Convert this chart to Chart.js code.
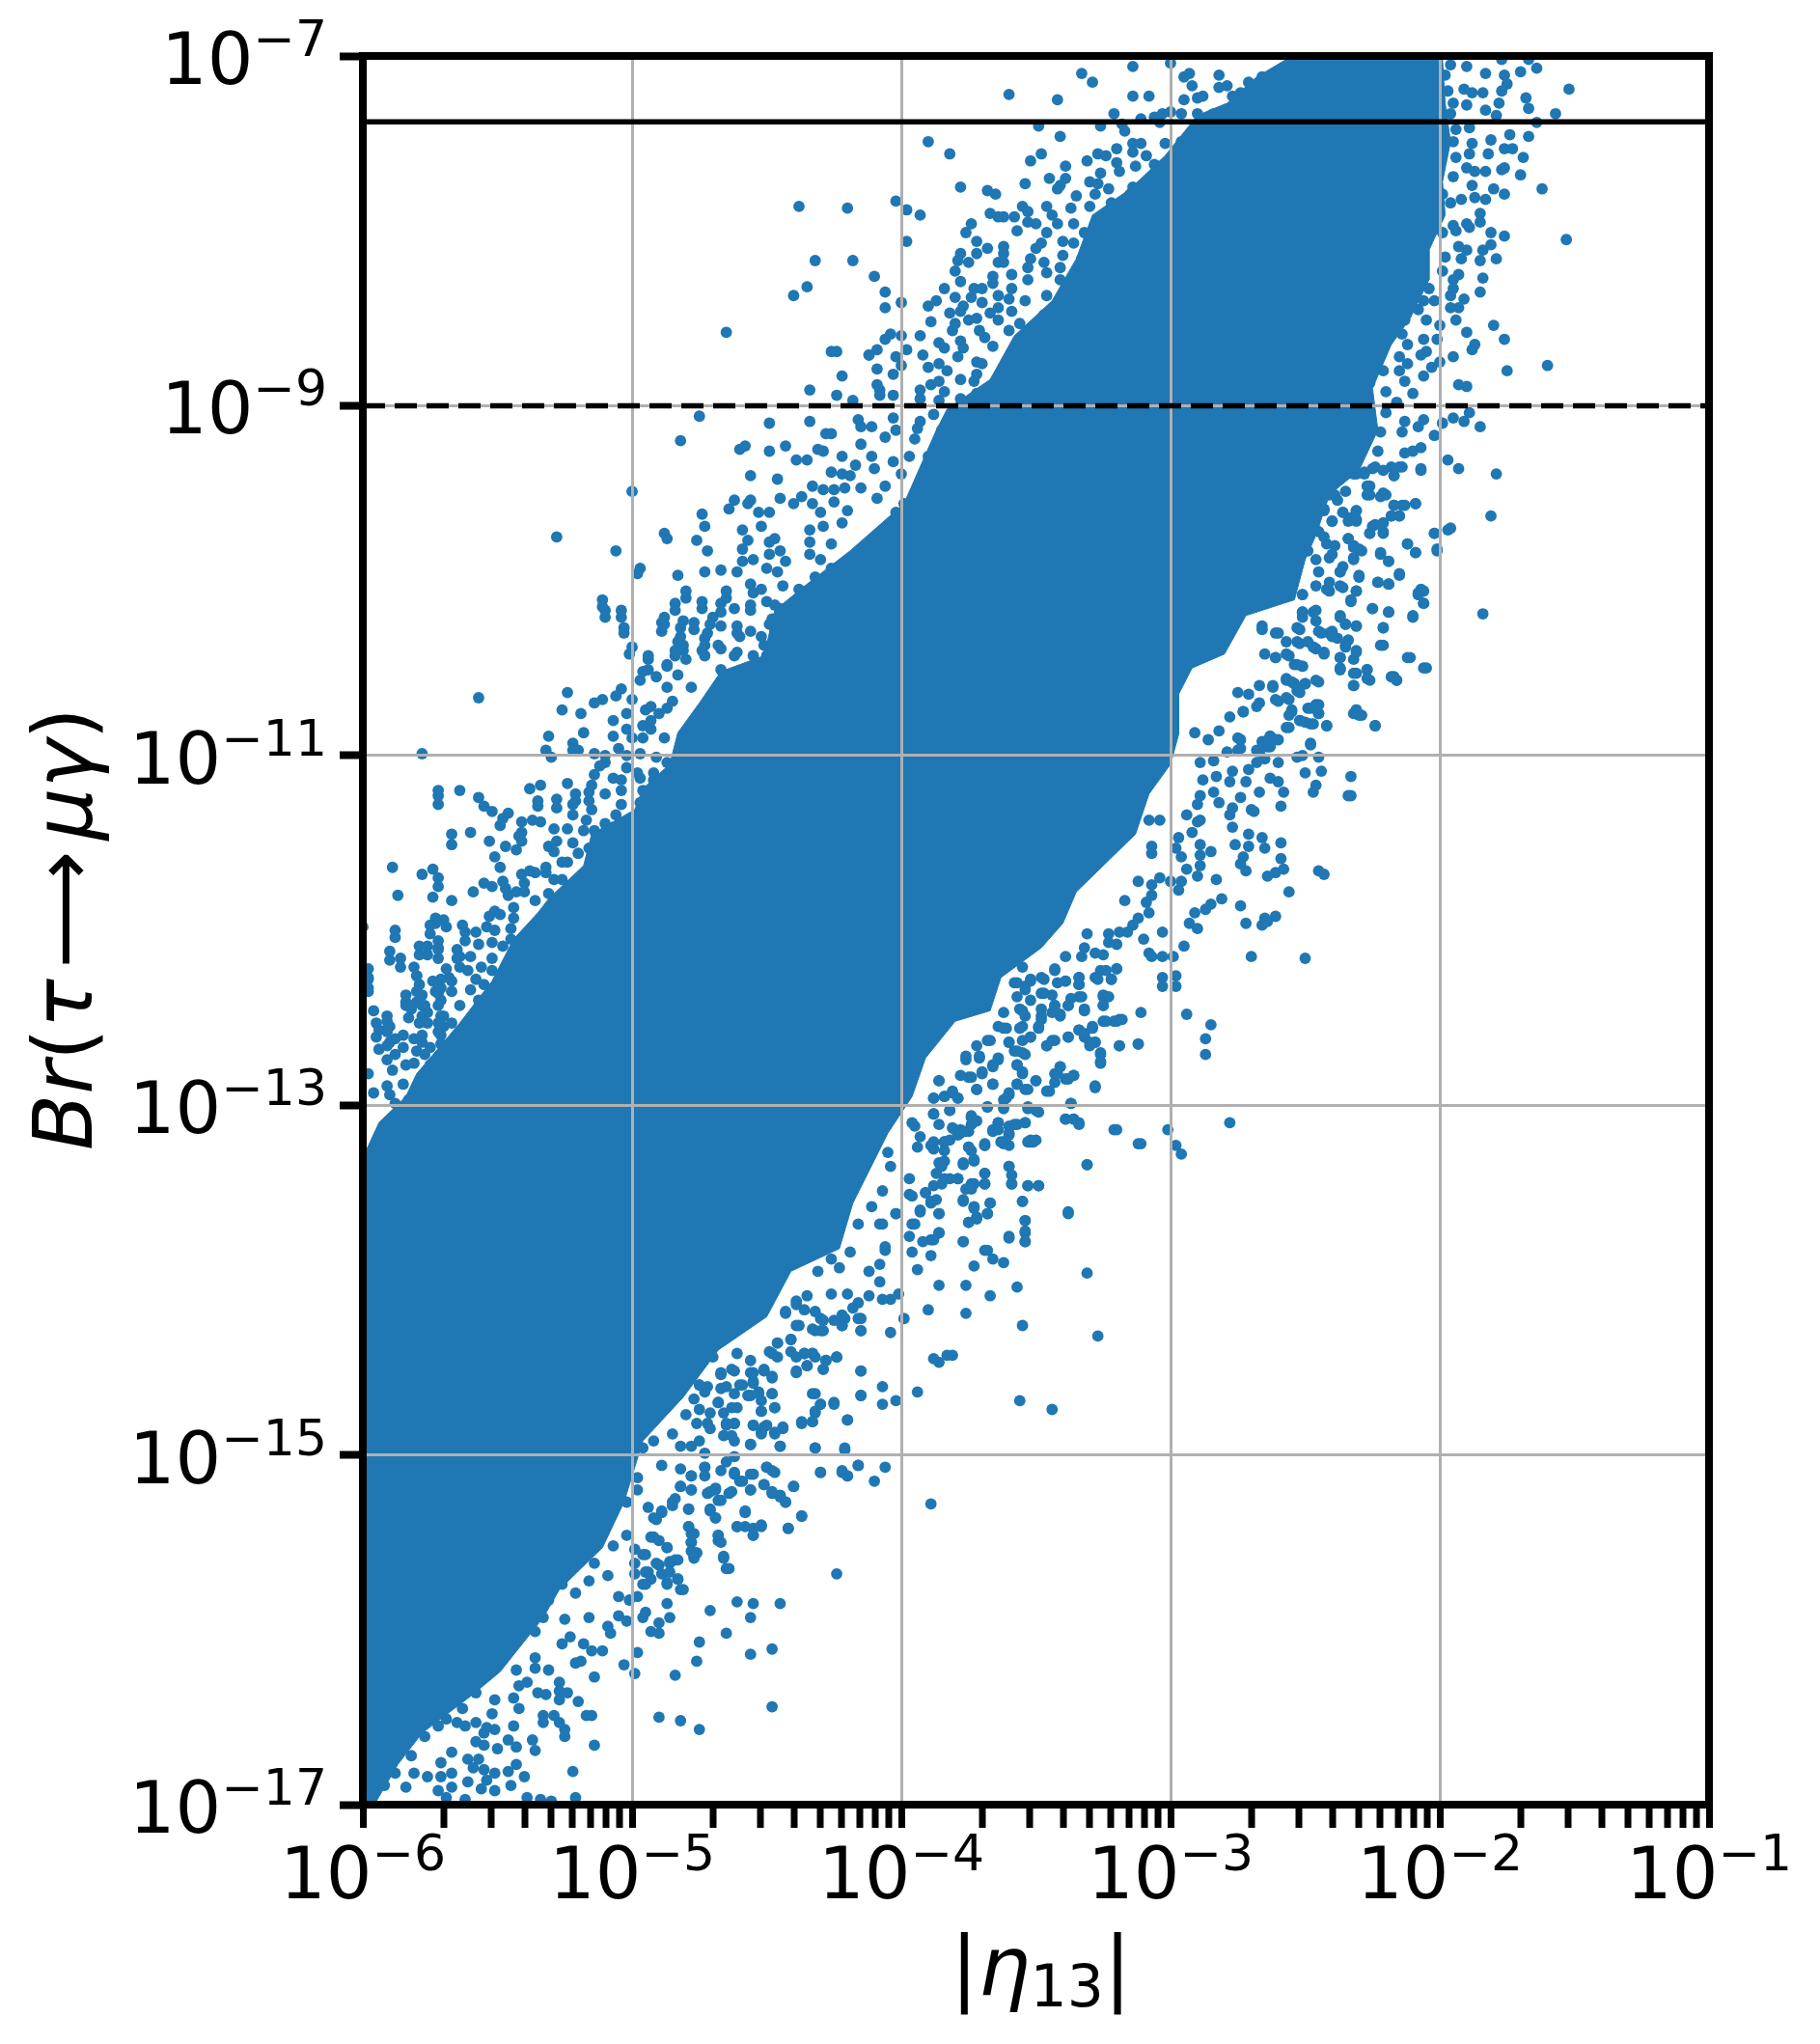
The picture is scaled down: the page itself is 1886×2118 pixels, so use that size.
<!DOCTYPE html>
<html>
<head>
<meta charset="UTF-8">
<title>Br(tau to mu gamma)</title>
<script src="https://cdn.jsdelivr.net/npm/chart.js@4"></script>
<style>
  html, body { margin: 0; padding: 0; background: #fff; }
  canvas { display: block; }
</style>
</head>
<body>
<canvas id="plot" width="1886" height="2118"></canvas>
<script>
// all values are log10(|eta13|), log10(Br)
const xMajorExp = [-6, -5, -4, -3, -2, -1];
const xMinorMult = [2, 3, 4, 5, 6, 7, 8, 9];
const yMajorExp = [-17, -15, -13, -11, -9, -7];
const limitSolid = 4.2e-8;
const limitDashed = 1e-9;

// outline of the part of the cloud where the dots merge into solid colour
const bandUpper = [[-6,-13.30],[-5.94,-13.10],[-5.84,-12.95],[-5.80,-12.82],[-5.70,-12.64],[-5.64,-12.53],[-5.52,-12.29],[-5.44,-12.05],[-5.35,-11.90],[-5.31,-11.82],[-5.18,-11.63],[-5.15,-11.45],[-4.99,-11.31],[-4.96,-11.19],[-4.86,-11.05],[-4.83,-10.87],[-4.75,-10.70],[-4.67,-10.52],[-4.51,-10.43],[-4.47,-10.17],[-4.35,-10.02],[-4.19,-9.83],[-3.99,-9.56],[-3.87,-9.14],[-3.83,-9.02],[-3.67,-8.85],[-3.58,-8.60],[-3.44,-8.40],[-3.35,-8.16],[-3.29,-7.91],[-3.15,-7.76],[-3.02,-7.57],[-2.90,-7.34],[-2.79,-7.27],[-2.68,-7.12],[-2.57,-7.02],[-2.53,-6.95]];
const bandLower = [[-1.99,-6.95],[-1.99,-7.02],[-1.98,-7.27],[-1.96,-7.49],[-1.99,-7.72],[-1.98,-7.91],[-2.04,-8.11],[-2.04,-8.28],[-2.11,-8.50],[-2.18,-8.65],[-2.25,-8.90],[-2.23,-9.14],[-2.30,-9.37],[-2.41,-9.51],[-2.46,-9.74],[-2.50,-9.88],[-2.54,-10.11],[-2.72,-10.20],[-2.80,-10.42],[-2.92,-10.50],[-2.97,-10.65],[-2.97,-10.88],[-3,-11.05],[-3.08,-11.22],[-3.13,-11.45],[-3.23,-11.60],[-3.35,-11.78],[-3.40,-11.96],[-3.48,-12.10],[-3.63,-12.27],[-3.67,-12.46],[-3.80,-12.52],[-3.91,-12.73],[-3.96,-12.95],[-4.05,-13.16],[-4.18,-13.56],[-4.23,-13.82],[-4.41,-13.95],[-4.50,-14.21],[-4.68,-14.40],[-4.81,-14.67],[-4.96,-14.92],[-5.03,-15.27],[-5.11,-15.53],[-5.27,-15.77],[-5.33,-15.93],[-5.49,-16.24],[-5.60,-16.38],[-5.78,-16.59],[-5.87,-16.77],[-5.95,-16.98],[-6,-17]];

const leftCorner = [[-5.88,-12.04],[-5.90,-12.17],[-5.86,-12.21],[-5.80,-12.26],[-5.79,-12.31],[-5.79,-12.14],[-5.76,-12.14],[-5.72,-12.10],[-5.72,-12.16],[-5.75,-12.02],[-5.73,-11.96],[-5.69,-11.98],[-5.62,-12.01],[-5.65,-12.16],[-5.64,-12.21],[-5.68,-12.27],[-5.73,-12.35],[-5.67,-12.35],[-5.71,-12.33],[-5.71,-12.40],[-5.84,-12.43],[-5.80,-12.41],[-5.77,-12.43],[-5.83,-12.50],[-5.78,-12.49],[-5.76,-12.53],[-5.78,-12.60],[-5.95,-12.53],[-5.90,-12.55],[-5.91,-12.58],[-5.90,-12.64],[-5.94,-12.68],[-5.85,-12.67],[-5.71,-12.60],[-5.71,-12.65],[-5.70,-12.55],[-5.71,-12.49],[-5.91,-12.74],[-5.88,-12.71],[-5.89,-12.80],[-5.84,-12.77],[-5.81,-12.76],[-5.80,-12.69],[-5.77,-12.71],[-5.75,-12.77],[-5.69,-12.82],[-5.91,-12.89],[-5.85,-12.88],[-5.96,-12.93],[-5.90,-12.94],[-5.88,-12.99],[-5.83,-12.97],[-5.98,-12.82],[-5.98,-12.27],[-5.98,-12.33]];

const leftWingLow = [[-5.11,-10.15],[-5.10,-10.21],[-5.04,-10.21],[-5.03,-10.30],[-5.01,-10.42],[-4.94,-10.45],[-4.94,-10.51],[-4.97,-10.57],[-4.91,-10.55],[-4.87,-10.49],[-4.84,-10.17],[-4.80,-10.10],[-4.74,-10.16],[-4.65,-10.10],[-4.89,-10.24],[-4.89,-10.29],[-4.82,-10.27],[-4.77,-10.28],[-4.71,-10.25],[-4.83,-10.35],[-4.73,-10.33],[-4.74,-10.40],[-4.81,-10.40],[-4.84,-10.43],[-4.80,-10.45],[-4.87,-10.61],[-4.78,-10.61],[-4.83,-10.54],[-4.67,-10.18],[-4.61,-10.30],[-4.56,-10.29],[-4.62,-10.43],[-4.67,-10.39],[-4.55,-10.43],[-4.51,-10.37],[-4.50,-10.54],[-4.55,-10.07],[-4.47,-10.14],[-4.56,-10.17],[-4.49,-10.25],[-5.24,-10.64],[-5.26,-10.74],[-5.19,-10.76],[-5.57,-10.67],[-5.14,-10.70],[-5.11,-10.68],[-5.06,-10.66],[-5.04,-10.62],[-5,-10.68],[-5.07,-10.80],[-5.02,-10.76],[-4.95,-10.74],[-4.93,-10.72],[-4.90,-10.76],[-4.85,-10.69],[-4.87,-10.73],[-5.18,-10.87],[-5.31,-10.89],[-5.22,-10.93],[-5.07,-10.89],[-5.02,-10.85],[-4.96,-10.83],[-4.93,-10.80],[-4.93,-10.85],[-4.96,-10.90],[-5,-10.90],[-4.88,-10.90],[-5.05,-10.96],[-5.78,-10.99],[-5.32,-10.97],[-5.30,-11.01],[-5.22,-10.97],[-5.20,-10.97],[-5.14,-10.99],[-5.10,-11],[-5.02,-11],[-4.97,-10.99],[-4.91,-11.01],[-4.87,-11.04],[-5.10,-11.04],[-5.12,-11.06],[-5.02,-11.07],[-4.98,-11.10],[-5.14,-11.11],[-5.07,-11.13],[-5.04,-11.14],[-4.97,-11.13],[-4.92,-11.10],[-4.92,-11.14],[-5.34,-11.17],[-5.38,-11.19],[-5.24,-11.16],[-5.15,-11.17],[-5.04,-11.20],[-4.96,-11.20],[-5.64,-11.20],[-5.72,-11.20],[-5.72,-11.23],[-5.72,-11.28],[-5.57,-11.24],[-5.55,-11.29],[-5.52,-11.32],[-5.46,-11.33],[-5.48,-11.36],[-5.49,-11.40],[-5.35,-11.26],[-5.35,-11.29],[-5.28,-11.25],[-5.28,-11.30],[-5.21,-11.22],[-5.21,-11.26],[-5.22,-11.28],[-5.22,-11.34],[-5.16,-11.21],[-5.16,-11.26],[-5.10,-11.22],[-5.04,-11.28],[-5.06,-11.34],[-5.10,-11.39],[-5.15,-11.31],[-5.17,-11.37],[-5.18,-11.43],[-5.14,-11.43],[-5.07,-11.41],[-4.97,-11.27],[-5.41,-11.38],[-5.37,-11.37],[-5.34,-11.38],[-5.41,-11.44],[-5.42,-11.46],[-5.41,-11.49],[-5.29,-11.42],[-5.24,-11.42],[-5.60,-11.44],[-5.67,-11.45],[-5.67,-11.51],[-5.53,-11.49],[-5.47,-11.52],[-5.43,-11.54],[-5.31,-11.52],[-5.28,-11.49],[-5.22,-11.50],[-5.29,-11.55],[-5.20,-11.56],[-5.16,-11.53],[-5.51,-11.58],[-5.49,-11.64],[-5.26,-11.61],[-5.24,-11.61],[-5.32,-11.64],[-5.32,-11.67],[-5.89,-11.64],[-5.74,-11.65],[-5.78,-11.68],[-5.72,-11.70],[-5.72,-11.75],[-5.41,-11.68],[-5.38,-11.66],[-5.36,-11.67],[-5.29,-11.71],[-5.26,-11.71],[-5.55,-11.73],[-5.52,-11.75],[-5.48,-11.72],[-5.47,-11.76],[-5.40,-11.73],[-5.59,-11.78],[-5.87,-11.80],[-5.74,-11.81],[-5.67,-11.83],[-5.46,-11.80],[-5.43,-11.78],[-5.40,-11.78],[-5.36,-11.83],[-5.31,-11.79],[-5.27,-11.83],[-5.44,-11.87],[-5.51,-11.89],[-5.53,-11.92],[-5.49,-11.91],[-5.73,-11.93],[-5.70,-11.94],[-5.75,-11.97],[-5.63,-11.97],[-5.44,-11.93],[-5.88,-12],[-6,-11.98],[-5.58,-12.01],[-5.54,-11.98],[-5.51,-12],[-5.45,-11.99],[-5.45,-12.05],[-5.40,-12.04],[-5.72,-12.06],[-5.62,-12.06],[-5.79,-12.09],[-5.76,-12.09],[-5.72,-12.11],[-5.90,-12.12],[-5.86,-12.16],[-5.65,-12.11],[-5.64,-12.15],[-5.57,-12.08],[-5.52,-12.07],[-5.48,-12.09],[-5.60,-12.15],[-5.52,-12.16],[-5.56,-12.21],[-5.81,-12.21],[-5.69,-12.22],[-5.80,-12.26],[-5.98,-12.22],[-5.98,-12.28],[-5.52,-12.23],[-5.61,-12.23],[-5.74,-12.29],[-5.71,-12.28],[-5.67,-12.29],[-5.58,-12.28],[-5.55,-12.31],[-5.84,-12.37],[-5.80,-12.35],[-5.78,-12.37],[-5.72,-12.36],[-5.60,-12.34],[-5.84,-12.41],[-5.78,-12.43],[-5.72,-12.43],[-5.64,-12.43],[-5.57,-12.40],[-5.96,-12.46],[-5.82,-12.45],[-5.76,-12.47],[-5.91,-12.49],[-5.91,-12.52],[-5.79,-12.53],[-5.70,-12.49],[-5.72,-12.53],[-5.91,-12.57],[-5.72,-12.58],[-5.67,-12.53],[-5.59,-12.52],[-5.95,-12.61],[-5.85,-12.60],[-5.81,-12.62],[-5.78,-12.64],[-5.88,-12.62],[-5.91,-12.66],[-5.69,-12.66],[-5.75,-12.67],[-5.98,-12.35],[-5.94,-12.57]];

const leftWingMid = [[-4.38,-7.86],[-4.20,-7.87],[-4.32,-8.17],[-4.18,-8.17],[-4.35,-8.32],[-4.40,-8.37],[-4.65,-8.58],[-4.26,-8.69],[-4.24,-8.69],[-4.12,-8.71],[-4.22,-8.83],[-4.34,-8.91],[-4.24,-8.94],[-4.18,-8.97],[-4.75,-9.06],[-4.49,-9.10],[-4.34,-9.09],[-4.16,-9.08],[-4.15,-9.12],[-4.28,-9.16],[-4.26,-9.16],[-4.82,-9.20],[-4.60,-9.25],[-4.58,-9.23],[-4.49,-9.26],[-4.43,-9.23],[-4.31,-9.25],[-4.29,-9.26],[-4.15,-9.22],[-4.39,-9.31],[-4.35,-9.31],[-4.22,-9.29],[-4.17,-9.34],[-4.26,-9.38],[-4.22,-9.39],[-4.19,-9.40],[-4.56,-9.40],[-4.46,-9.42],[-5,-9.49],[-4.33,-9.46],[-4.29,-9.48],[-4.25,-9.48],[-4.21,-9.47],[-4.15,-9.47],[-4.45,-9.53],[-4.37,-9.52],[-4.62,-9.54],[-4.56,-9.54],[-4.57,-9.56],[-4.64,-9.59],[-4.53,-9.61],[-4.49,-9.61],[-4.40,-9.56],[-4.33,-9.56],[-4.30,-9.61],[-4.25,-9.55],[-4.20,-9.60],[-4.74,-9.62],[-4.73,-9.69],[-4.59,-9.71],[-4.52,-9.69],[-5.28,-9.75],[-4.88,-9.73],[-4.87,-9.76],[-4.76,-9.77],[-4.57,-9.77],[-4.49,-9.78],[-4.47,-9.76],[-4.34,-9.71],[-4.29,-9.69],[-4.22,-9.67],[-5.06,-9.83],[-4.72,-9.83],[-4.59,-9.82],[-4.45,-9.83],[-4.34,-9.78],[-4.26,-9.79],[-4.59,-9.89],[-4.55,-9.88],[-4.43,-9.89],[-4.49,-9.85],[-4.97,-9.93],[-4.98,-9.96],[-4.83,-9.97],[-4.73,-9.95],[-4.67,-9.94],[-4.61,-9.95],[-4.50,-9.93],[-4.46,-9.95],[-4.34,-9.85],[-4.30,-9.88],[-4.80,-10.06],[-4.65,-10.06],[-4.56,-10.02],[-4.52,-10.05],[-4.44,-10.03],[-4.38,-10.05],[-4.32,-9.98],[-4.26,-9.93],[-4.22,-9.98],[-5.11,-10.11],[-5.10,-10.17],[-5.04,-10.17],[-4.84,-10.13],[-4.74,-10.12],[-4.67,-10.13],[-4.62,-10.16],[-4.56,-10.14],[-4.50,-10.12],[-4.45,-10.16],[-4.88,-10.21],[-4.88,-10.25],[-4.81,-10.23],[-4.77,-10.24],[-4.70,-10.21],[-4.67,-10.26],[-4.61,-10.26],[-4.48,-10.22],[-4.38,-10.20],[-5.03,-10.27],[-4.82,-10.32],[-4.72,-10.30],[-4.68,-10.37],[-4.73,-10.37],[-4.60,-10.32],[-4.52,-10.32],[-4.47,-10.29],[-5,-10.38],[-4.84,-10.40],[-4.81,-10.37],[-4.94,-10.43],[-4.73,-10.43],[-4.61,-10.41],[-4.50,-10.43],[-4.96,-10.52],[-4.87,-10.48],[-4.67,-10.51],[-4.57,-10.51]];

const upperWing = [[-3.60,-7.22],[-3.42,-7.25],[-3.33,-7.10],[-3.29,-7.15],[-3.14,-7.06],[-3.14,-7.23],[-3.08,-7.23],[-3,-7.04],[-3.21,-7.33],[-3.11,-7.36],[-3.06,-7.35],[-3.03,-7.33],[-3,-7.32],[-2.96,-7.33],[-2.90,-7.33],[-2.95,-7.12],[-2.93,-7.10],[-2.92,-7.17],[-2.95,-7.25],[-2.90,-7.24],[-2.88,-7.23],[-2.82,-7.11],[-2.82,-7.18],[-2.79,-7.17],[-2.77,-7.23],[-2.71,-7.15],[-2.74,-7.21],[-2.84,-7.33],[-2.75,-7.30],[-2.66,-7.12],[-2.62,-7.12],[-2.68,-7.20],[-2.64,-7.20],[-3.49,-7.40],[-3.26,-7.40],[-3.17,-7.43],[-3.18,-7.39],[-3.04,-7.38],[-3.41,-7.46],[-3.90,-7.49],[-3.82,-7.56],[-3.02,-7.50],[-2.96,-7.49],[-2.94,-7.48],[-2.88,-7.44],[-3.48,-7.56],[-3.52,-7.60],[-3.31,-7.60],[-3.27,-7.56],[-3.24,-7.57],[-3.20,-7.53],[-3.14,-7.50],[-3.11,-7.50],[-3.14,-7.55],[-3.09,-7.57],[-3.20,-7.61],[-3.39,-7.63],[-3.19,-7.66],[-3.13,-7.63],[-3.26,-7.67],[-3.06,-7.62],[-3.45,-7.70],[-3.39,-7.70],[-3.54,-7.73],[-3.78,-7.75],[-3.30,-7.72],[-3.27,-7.73],[-3.41,-7.74],[-3.23,-7.76],[-3.14,-7.75],[-3.68,-7.77],[-3.65,-7.79],[-3.42,-7.76],[-3.35,-7.80],[-4.02,-7.83],[-3.98,-7.88],[-3.93,-7.91],[-3.28,-7.79],[-3.55,-7.86],[-3.46,-7.86],[-3.22,-7.84],[-3.44,-7.91],[-3.37,-7.87],[-3.30,-7.86],[-3.15,-7.79],[-3.67,-7.90],[-3.64,-7.92],[-3.62,-7.92],[-3.58,-7.92],[-3.53,-7.89],[-3.53,-7.95],[-3.50,-7.96],[-3.42,-7.96],[-3.36,-7.96],[-3.24,-7.95],[-3.18,-7.95],[-3.74,-7.96],[-3.76,-8.01],[-3.57,-8],[-3.46,-8.01],[-3.32,-8.01],[-3.98,-8.06],[-3.72,-8.06],[-3.40,-8.06],[-3.36,-8.07],[-3.48,-8.07],[-3.23,-8.05],[-3.68,-8.10],[-3.62,-8.09],[-3.50,-8.10],[-3.29,-8.09],[-3.78,-8.13],[-3.72,-8.13],[-3.62,-8.13],[-3.40,-8.14],[-3.33,-8.16],[-3.79,-8.17],[-3.75,-8.18],[-3.64,-8.18],[-3.62,-8.18],[-3.52,-8.16],[-3.47,-8.18],[-3.80,-8.23],[-3.53,-8.21],[-3.41,-8.21],[-4.10,-8.26],[-3.66,-8.26],[-3.59,-8.25],[-3.46,-8.24],[-3.78,-8.29],[-3.66,-8.30],[-3.53,-8.28],[-3.41,-8.28],[-3.84,-8.33],[-3.73,-8.33],[-3.70,-8.33],[-3.59,-8.33],[-4.06,-8.35],[-3.74,-8.38],[-3.80,-8.38],[-3.64,-8.37],[-3.46,-8.37],[-3.87,-8.40],[-3.70,-8.41],[-3.60,-8.39],[-3.54,-8.40],[-4,-8.41],[-3.90,-8.43],[-3.77,-8.43],[-4.06,-8.44],[-3.64,-8.44],[-3.78,-8.46],[-3.82,-8.47],[-3.67,-8.47],[-3.59,-8.46],[-3.47,-8.48],[-3.72,-8.50],[-3.75,-8.51],[-3.89,-8.52],[-3.80,-8.53],[-3.64,-8.51],[-3.56,-8.53],[-3.71,-8.57],[-4.04,-8.59],[-4,-8.60],[-3.93,-8.60],[-3.81,-8.57],[-4.06,-8.62],[-3.86,-8.64],[-3.78,-8.63],[-3.69,-8.61],[-3.60,-8.57],[-4.09,-8.68],[-3.98,-8.68],[-3.84,-8.67],[-3.77,-8.67],[-3.66,-8.66],[-4.12,-8.71],[-4.02,-8.72],[-3.92,-8.71],[-3.79,-8.72],[-3.72,-8.75],[-3.86,-8.76],[-4,-8.77],[-3.90,-8.78],[-3.83,-8.80],[-4.09,-8.79],[-3.70,-8.76],[-4.03,-8.82],[-3.78,-8.85],[-3.72,-8.82],[-3.86,-8.86],[-3.89,-8.88],[-3.73,-8.86],[-4.09,-8.88],[-4.08,-8.91],[-3.93,-8.91],[-3.84,-8.92],[-4.03,-8.94],[-4.08,-8.94],[-3.93,-8.96],[-3.78,-8.96],[-3.72,-8.93],[-3.86,-8.97],[-4.03,-9.07],[-3.93,-9.09],[-4.11,-9.12],[-4.02,-9.14],[-3.94,-9.13],[-4.06,-9.18],[-3.95,-9.19],[-3.88,-9.05],[-3.85,-9.14],[-4.11,-9.29],[-4.03,-9.32],[-3.97,-9.29],[-3.90,-9.29],[-4.10,-9.36],[-4,-9.39],[-4.09,-9.53],[-4.06,-9.46],[-3.99,-9.56],[-3.92,-9.56],[-4.02,-9.61]];

const rightEdgeTop = [[-1.52,-7.19],[-1.57,-7.33],[-1.64,-7.07],[-1.70,-7.09],[-1.68,-7.24],[-1.67,-7.30],[-1.76,-7.11],[-1.75,-7.16],[-1.83,-7.10],[-1.77,-7.02],[-1.67,-7.02],[-1.90,-7.06],[-1.96,-7.05],[-1.84,-7.21],[-1.77,-7.20],[-1.78,-7.27],[-1.88,-7.21],[-1.91,-7.19],[-1.83,-7.31],[-1.79,-7.34],[-1.90,-7.28],[-1.95,-7.27],[-1.96,-7.33],[-1.98,-7.11],[-1.97,-7.20],[-1.64,-7.38],[-1.89,-7.41],[-1.94,-7.42],[-1.74,-7.45],[-1.67,-7.46],[-1.81,-7.48],[-1.88,-7.50],[-1.76,-7.53],[-1.73,-7.53],[-1.89,-7.56],[-1.82,-7.56],[-1.69,-7.58],[-1.95,-7.49],[-1.94,-7.58],[-2,-7.52],[-1.90,-7.64],[-1.87,-7.66],[-1.83,-7.66],[-1.77,-7.65],[-1.76,-7.64],[-1.70,-7.68],[-1.95,-7.69],[-2.01,-7.67],[-1.62,-7.76],[-1.88,-7.74],[-1.80,-7.76],[-1.76,-7.79],[-1.87,-7.81],[-1.83,-7.82],[-1.92,-7.82],[-1.96,-7.84],[-1.99,-7.79],[-2.04,-7.74],[-1.85,-7.90],[-1.85,-7.95],[-1.90,-7.96],[-1.95,-7.97],[-1.89,-7.98],[-1.94,-8],[-1.99,-8.01],[-1.81,-8.01],[-1.76,-8.03],[-1.53,-8.05],[-1.93,-8.09],[-1.90,-8.11],[-1.81,-8.08],[-1.84,-8.11],[-1.98,-8.15],[-1.92,-8.16],[-1.85,-8.17],[-1.79,-8.16],[-1.99,-8.23],[-1.93,-8.25],[-1.95,-8.28],[-1.84,-8.27],[-1.85,-8.35],[-1.95,-8.33],[-2.04,-8.33],[-1.91,-8.39],[-1.96,-8.37],[-2.06,-8.40],[-1.96,-8.44],[-1.93,-8.44],[-2.02,-8.40],[-2.08,-8.45],[-1.94,-8.51],[-2,-8.54],[-2.13,-8.51],[-2.05,-8.51],[-2.17,-8.51],[-1.80,-8.54],[-1.90,-8.58],[-1.76,-8.62],[-2.01,-8.62],[-2.06,-8.62],[-1.87,-8.65],[-1.88,-8.68],[-2.14,-8.59],[-2.12,-8.65],[-2.18,-8.58],[-2.05,-8.69],[-2.07,-8.71],[-1.95,-8.72],[-2,-8.75],[-2.15,-8.72],[-2.12,-8.76],[-1.60,-8.77],[-1.75,-8.80],[-2.21,-8.80],[-2.15,-8.80],[-2.06,-8.83],[-2.13,-8.86],[-2.03,-8.78],[-1.93,-8.88],[-1.90,-8.89],[-2.20,-8.92],[-2.10,-8.93],[-2.26,-8.87],[-2.16,-8.98],[-1.89,-9.04],[-1.95,-9.07],[-1.91,-9.09],[-1.85,-9.12],[-2.06,-9.08],[-2.13,-9.09],[-2.20,-9.04],[-2.08,-9.12],[-1.99,-9.10],[-2.14,-9.15],[-2.22,-9.15],[-2.02,-9.17],[-2.07,-9.24],[-2.10,-9.26],[-2.13,-9.27],[-2.23,-9.26],[-2.29,-9.24],[-1.97,-9.31],[-1.93,-9.36],[-1.79,-9.39],[-2.07,-9.36],[-2.14,-9.35],[-2.18,-9.35],[-2.24,-9.35],[-2.36,-9.34],[-2.17,-9.40],[-2.31,-9.39],[-2.28,-9.39],[-2.27,-9.46],[-2.21,-9.50],[-2.27,-9.51],[-2.39,-9.51],[-2.09,-9.56],[-2.17,-9.57],[-2.14,-9.57],[-1.81,-9.63],[-2.18,-9.63],[-2.15,-9.63],[-2.36,-9.61],[-2.31,-9.60],[-2.43,-9.60],[-2.40,-9.66],[-2.33,-9.64],[-2.31,-9.65],[-2.21,-9.67],[-2.24,-9.68],[-1.96,-9.70],[-2.02,-9.73],[-2.26,-9.73],[-2.21,-9.73],[-2.46,-9.71],[-2.50,-9.74],[-2.34,-9.76],[-2.12,-9.79],[-2.09,-9.84],[-2.01,-9.82],[-2.32,-9.80],[-2.30,-9.82],[-2.22,-9.84],[-2.19,-9.89],[-2.32,-9.87],[-2.42,-9.79],[-2.40,-9.85],[-2.49,-9.83],[-2.46,-9.88],[-2.37,-9.95],[-2.30,-9.98],[-2.15,-9.96],[-2.31,-10.06],[-2.23,-10.01],[-2.19,-10.02],[-2.07,-10.05],[-2.08,-10.08],[-2.37,-10.03],[-2.42,-10.05],[-2.51,-10.08],[-2.33,-10.11],[-2.06,-10.13]];

const rightEdgeMid = [[-1.84,-10.19],[-2.06,-10.50],[-2.12,-10.44],[-2.10,-10.20],[-2.08,-10.07],[-2.19,-10.18],[-2.25,-10.16],[-2.21,-10.27],[-2.31,-10.26],[-2.35,-10.25],[-2.37,-10.20],[-2.22,-10.37],[-2.31,-10.40],[-2.37,-10.44],[-2.27,-10.51],[-2.27,-10.56],[-2.32,-10.53],[-2.37,-10.50],[-2.18,-10.55],[-2.16,-10.57],[-2.32,-10.60],[-2.45,-10.29],[-2.41,-10.30],[-2.35,-10.37],[-2.43,-10.41],[-2.47,-10.38],[-2.53,-10.35],[-2.47,-10.18],[-2.51,-10.18],[-2.53,-10.27],[-2.61,-10.30],[-2.66,-10.26],[-2.57,-10.42],[-2.61,-10.44],[-2.54,-10.48],[-2.51,-10.49],[-2.46,-10.57],[-2.50,-10.59],[-2.57,-10.56],[-2.55,-10.58],[-2.53,-10.63],[-2.62,-10.60],[-2.24,-10.83],[-2.31,-10.74],[-2.30,-10.77],[-2.46,-10.71],[-2.49,-10.73],[-2.45,-10.76],[-2.42,-10.83],[-2.48,-10.82],[-2.52,-10.80],[-2.57,-10.84],[-2.55,-10.74],[-2.61,-10.68],[-2.57,-10.67],[-2.68,-10.72],[-2.73,-10.75],[-2.75,-10.90],[-2.63,-10.89],[-2.61,-10.91],[-2.66,-10.92],[-2.64,-10.95],[-2.48,-10.93],[-2.79,-10.98],[-2.74,-10.96],[-2.68,-10.97],[-2.53,-11.01],[-2.51,-11],[-2.45,-11.01],[-2.60,-11.04],[-2.65,-11.02],[-2.68,-11.04],[-2.71,-11.08],[-2.77,-11.09],[-2.84,-11.03],[-2.89,-11.04],[-2.44,-11.09],[-2.50,-11.10],[-2.33,-11.12],[-2.83,-11.12],[-2.78,-11.15],[-2.72,-11.15],[-2.63,-11.13],[-2.60,-11.15],[-2.88,-11.14],[-2.46,-11.17],[-2.47,-11.21],[-2.58,-11.21],[-2.67,-11.21],[-2.84,-11.21],[-2.34,-11.23],[-2.33,-11.23],[-2.74,-11.24],[-2.82,-11.27],[-2.89,-11.23],[-2.59,-11.29],[-2.70,-11.31],[-2.69,-11.32],[-2.77,-11.30],[-2.78,-11.34],[-2.94,-11.34],[-2.90,-11.28],[-2.89,-11.37],[-2.90,-11.38],[-2.77,-11.41],[-2.92,-11.44],[-2.71,-11.45],[-2.66,-11.47],[-2.97,-11.47],[-3.04,-11.37],[-3.08,-11.37],[-2.59,-11.50],[-2.76,-11.51],[-2.71,-11.52],[-2.89,-11.51],[-2.65,-11.53],[-2.98,-11.53],[-3.07,-11.52],[-2.85,-11.55],[-2.89,-11.57],[-2.96,-11.58],[-3.07,-11.56],[-2.73,-11.58],[-2.59,-11.59],[-2.74,-11.62],[-2.89,-11.63],[-2.94,-11.65],[-2.58,-11.65],[-2.45,-11.66],[-2.43,-11.68],[-2.61,-11.67],[-2.72,-11.66],[-2.64,-11.69],[-2.90,-11.69],[-2.83,-11.71],[-2.96,-11.72],[-3,-11.72],[-3.04,-11.70],[-3.12,-11.72],[-2.97,-11.77],[-3.07,-11.74],[-2.56,-11.78],[-3.07,-11.80],[-3.17,-11.83],[-2.81,-11.82],[-3.09,-11.84],[-2.85,-11.85],[-2.87,-11.88],[-2.74,-11.86],[-2.91,-11.90],[-3.08,-11.90],[-3.12,-11.93],[-2.61,-11.92],[-2.65,-11.93],[-2.72,-11.96],[-2.93,-11.96],[-2.64,-11.95],[-2.66,-11.97],[-2.90,-11.99],[-3.14,-11.97],[-3.16,-12.01],[-3.19,-12.01],[-3.03,-12.01],[-3.23,-12.02],[-3.10,-12.05],[-3.31,-12.02],[-3.23,-12.07],[-3.20,-12.08],[-2.95,-12.09],[-3.32,-12.10],[-3.08,-12.13],[-3.07,-12.15],[-2.70,-12.15],[-2.50,-12.16],[-3.03,-12.15],[-2.99,-12.15],[-3.28,-12.13],[-3.25,-12.14],[-3.33,-12.15],[-3.39,-12.15],[-3.20,-12.22],[-3.26,-12.23],[-3.22,-12.28],[-3.28,-12.27],[-3.34,-12.27],[-3.39,-12.29],[-3.48,-12.27],[-3.52,-12.28],[-3.43,-12.22],[-2.98,-12.26],[-3.03,-12.27],[-3.03,-12.32],[-2.98,-12.32],[-3.34,-12.31],[-3.58,-12.30],[-3.54,-12.32],[-3.25,-12.38],[-3.24,-12.38],[-3.34,-12.38],[-3.38,-12.43],[-3.44,-12.37],[-3.25,-12.43],[-3.48,-12.36],[-3.57,-12.38],[-3.52,-12.40],[-3.32,-12.45],[-3.11,-12.47],[-2.94,-12.48],[-3.43,-12.43],[-3.41,-12.49],[-3.56,-12.45],[-3.48,-12.45],[-3.48,-12.51],[-3.19,-12.51],[-3.21,-12.52],[-3.25,-12.52],[-2.85,-12.54],[-3.56,-12.56],[-3.49,-12.56],[-3.29,-12.56],[-3.34,-12.57],[-3.62,-12.56],[-2.87,-12.62],[-3.52,-12.61],[-3.43,-12.63],[-3.38,-12.61],[-3.32,-12.61],[-3.28,-12.64],[-3.12,-12.65],[-3.19,-12.66],[-3.30,-12.66],[-3.46,-12.66],[-3.60,-12.64],[-3.68,-12.63],[-2.87,-12.71],[-3.26,-12.70],[-3.55,-12.70],[-3.58,-12.69],[-3.26,-12.76],[-3.71,-12.73],[-3.64,-12.74],[-3.57,-12.77],[-3.66,-12.77],[-3.41,-12.78],[-3.76,-12.74],[-3.55,-12.81],[-3.70,-12.81],[-3.43,-12.82],[-3.36,-12.83],[-3.39,-12.85],[-3.50,-12.86],[-3.75,-12.84],[-3.66,-12.88],[-3.86,-12.86],[-3.28,-12.89],[-3.57,-12.88],[-3.72,-12.91],[-3.54,-12.91],[-3.46,-12.92],[-3.81,-12.93],[-3.60,-12.94],[-3.79,-12.96],[-3.88,-12.96],[-3.62,-12.97],[-3.84,-12.95],[-3.37,-12.99],[-3.68,-13.01],[-3.62,-13.01],[-3.53,-13.01],[-3.50,-13.03],[-3.82,-13.03],[-3.88,-13.05],[-3.74,-13.07],[-3.39,-13.08],[-3.36,-13.08],[-3.34,-13.11],[-2.78,-13.10],[-3.54,-13.10],[-3.58,-13.11],[-3.64,-13.10],[-3.74,-13.11],[-3.95,-13.12],[-3.21,-13.14],[-3.01,-13.14],[-3.66,-13.15],[-3.60,-13.17],[-3.80,-13.14],[-3.76,-13.15],[-3.79,-13.17],[-3.11,-13.22],[-2.98,-13.23],[-3.51,-13.21],[-3.53,-13.21],[-3.69,-13.23],[-3.62,-13.22],[-3.84,-13.21],[-3.75,-13.24],[-3.89,-13.23],[-2.96,-13.28],[-3.84,-13.26],[-3.94,-13.24],[-4.05,-13.27]];

const lowerEdge = [[-3.31,-13.34],[-3.38,-13.61],[-3.31,-13.96],[-3.27,-14.32],[-3.44,-14.74],[-3.56,-14.69],[-3.55,-14.26],[-3.57,-14.04],[-3.54,-13.78],[-3.54,-13.72],[-3.54,-13.66],[-3.55,-13.55],[-3.49,-13.46],[-3.53,-13.46],[-3.59,-13.45],[-3.60,-13.35],[-3.63,-13.21],[-3.52,-13.20],[-3.60,-13.75],[-3.62,-13.90],[-3.66,-13.88],[-3.69,-13.83],[-3.67,-13.56],[-3.68,-13.62],[-3.72,-13.64],[-3.75,-13.67],[-3.73,-13.58],[-3.69,-13.45],[-3.69,-13.39],[-3.69,-13.22],[-3.73,-13.31],[-3.77,-13.33],[-3.77,-13.54],[-3.74,-13.45],[-3.79,-13.42],[-3.84,-13.42],[-3.86,-13.33],[-3.77,-13.78],[-3.73,-13.92],[-3.67,-14.09],[-3.76,-14.03],[-3.76,-14.19],[-3.86,-14.03],[-3.90,-14.17],[-3.94,-13.94],[-3.89,-13.86],[-3.96,-13.84],[-3.89,-13.77],[-3.86,-13.73],[-3.96,-13.68],[-3.93,-13.60],[-3.86,-13.62],[-3.89,-13.55],[-3.97,-13.51],[-3.91,-13.50],[-3.99,-14.22],[-4.04,-14.30],[-4.01,-14.08],[-4.04,-14.11],[-4.07,-14.11],[-4.12,-14.09],[-4.08,-14.01],[-4.12,-13.95],[-4.08,-13.91],[-4.06,-13.83],[-4.08,-13.68],[-4.02,-13.62],[-3.88,-14.45],[-3.86,-14.47],[-3.83,-14.43],[-3.81,-14.43],[-3.94,-14.64],[-4.02,-14.69],[-4.07,-14.61],[-4.07,-14.71],[-4.15,-14.52],[-4.15,-14.66],[-4.20,-14.80],[-4.25,-14.70],[-4.33,-14.81],[-4.30,-14.71],[-4.32,-14.75],[-4.33,-14.65],[-4.37,-14.81],[-4.15,-14.29],[-4.15,-14.22],[-4.16,-14.13],[-4.21,-14.22],[-4.22,-14.26],[-4.24,-14.44],[-4.28,-14.46],[-4.29,-14.51],[-4.33,-14.42],[-4.36,-14.42],[-4.35,-14.49],[-4.39,-14.52],[-4.30,-14.29],[-4.33,-14.28],[-4.30,-14.22],[-4.38,-14.26],[-4.41,-14.34],[-4.21,-14.96],[-4.32,-14.96],[-4.45,-14.95],[-4.56,-14.94],[-4.44,-14.84],[-4.47,-14.87],[-4.50,-14.83],[-4.55,-14.83],[-4.52,-14.87],[-4.62,-14.82],[-4.65,-14.82],[-4.72,-14.82],[-4.47,-14.73],[-4.52,-14.75],[-4.48,-14.65],[-4.53,-14.64],[-4.57,-14.66],[-4.60,-14.60],[-4.63,-14.73],[-4.68,-14.70],[-4.65,-14.61],[-4.55,-14.58],[-4.48,-14.55],[-4.51,-14.51],[-4.56,-14.53],[-4.63,-14.51],[-4.67,-14.53],[-4.72,-14.61],[-4.75,-14.60],[-3.96,-13.10],[-3.93,-13.18],[-3.88,-13.25],[-3.97,-13.42],[-4.04,-13.35],[-4.07,-13.49],[-4.11,-13.58],[-4.16,-13.68],[-4.19,-13.84],[-4.23,-13.71],[-4.30,-13.79],[-4.26,-13.88],[-4.35,-13.87],[-4.39,-13.88],[-4.31,-13.95],[-4.23,-13.93],[-4.20,-14.08],[-4.26,-14.08],[-4.35,-14.09],[-4.39,-14.12],[-4.43,-14.18],[-4.46,-14.36],[-4.49,-14.41],[-4.56,-14.46],[-4.61,-14.42],[-4.70,-14.44],[-4.66,-14.26],[-4.74,-14.47],[-4.80,-14.77],[-4.85,-14.88],[-4.92,-14.92],[-4.96,-14.96]];

const lowerTail = [[-3.89,-15.28],[-4.06,-15.07],[-4.10,-15.15],[-4.16,-15.06],[-4.20,-15.12],[-4.22,-15.09],[-4.30,-15.10],[-4.40,-15.18],[-4.37,-15.35],[-4.42,-15.42],[-4.50,-15.07],[-4.48,-15.09],[-4.56,-15.11],[-4.56,-15.20],[-4.51,-15.17],[-4.48,-15.21],[-4.45,-15.23],[-4.43,-15.27],[-4.60,-15.15],[-4.62,-15.10],[-4.69,-15.20],[-4.63,-15.21],[-4.71,-15.21],[-4.68,-15.26],[-4.73,-15.07],[-4.78,-15.20],[-4.82,-15.18],[-4.78,-15.12],[-4.85,-15.27],[-4.71,-15.31],[-4.69,-15.36],[-4.58,-15.32],[-4.61,-15.41],[-4.55,-15.46],[-4.52,-15.41],[-4.79,-15.31],[-4.89,-15.32],[-4.92,-15.36],[-4.79,-15.41],[-4.78,-15.45],[-4.68,-15.46],[-4.68,-15.49],[-4.93,-15.47],[-4.87,-15.53],[-4.78,-15.50],[-4.76,-15.56],[-4.77,-15.58],[-4.66,-15.58],[-4.65,-15.65],[-4.96,-15.57],[-4.83,-15.60],[-4.86,-15.61],[-4.91,-15.62],[-4.94,-15.67],[-4.87,-15.73],[-4.83,-15.71],[-4.96,-15.74],[-4.82,-15.77],[-4.98,-15.81],[-5.05,-15.81],[-5.01,-15.83],[-4.61,-15.84],[-4.55,-15.85],[-4.45,-15.85],[-4.56,-15.93],[-4.71,-15.89],[-4.87,-15.85],[-4.86,-15.93],[-4.95,-15.90],[-4.96,-15.93],[-4.90,-15.96],[-5.02,-15.95],[-5.05,-15.92],[-5.09,-15.98],[-5.08,-16.02],[-4.93,-16.01],[-4.90,-16.02],[-4.65,-16.02],[-5.16,-15.93],[-4.75,-16.07],[-5.18,-16.08],[-5.26,-16.08],[-5.23,-16.04],[-5.15,-16.12],[-5.11,-16.12],[-4.98,-16.13],[-4.48,-16.11],[-4.56,-16.14],[-4.76,-16.18],[-5.21,-16.19],[-5.19,-16.18],[-5.03,-16.20],[-4.99,-16.25],[-4.84,-16.26],[-5.31,-16.23],[-5.36,-16.22],[-5.36,-16.16],[-5.14,-16.27],[-5.39,-16.30],[-5.27,-16.30],[-5.43,-16.23],[-5.27,-16.35],[-5.24,-16.36],[-5.35,-16.36],[-5.32,-16.37],[-5.27,-16.40],[-5.20,-16.41],[-5.42,-16.32],[-5.44,-16.39],[-5.42,-16.45],[-5.52,-16.48],[-5.17,-16.49],[-5.15,-16.49],[-5.33,-16.49],[-5.29,-16.49],[-5.27,-16.53],[-5.33,-16.53],[-4.90,-16.50],[-4.82,-16.52],[-4.75,-16.57],[-4.48,-16.44],[-5.44,-16.55],[-5.25,-16.57],[-5.25,-16.61],[-5.54,-16.56],[-5.51,-16.57],[-5.55,-16.59],[-5.58,-16.53],[-5.62,-16.55],[-5.65,-16.53],[-5.69,-16.51],[-5.72,-16.55],[-5.37,-16.63],[-5.36,-16.69],[-5.43,-16.67],[-5.46,-16.63],[-5.14,-16.66],[-5.58,-16.64],[-5.55,-16.66],[-5.50,-16.68],[-5.61,-16.74],[-5.57,-16.74],[-5.67,-16.70],[-5.71,-16.76],[-5.59,-16.79],[-5.55,-16.80],[-5.51,-16.82],[-5.43,-16.77],[-5.46,-16.81],[-5.40,-16.84],[-5.22,-16.81],[-5.67,-16.82],[-5.71,-16.84],[-5.76,-16.84],[-5.81,-16.82],[-5.84,-16.90],[-5.61,-16.87],[-5.54,-16.86],[-5.56,-16.91],[-5.67,-16.90],[-5.72,-16.92],[-5.51,-16.92],[-5.45,-16.89],[-5.62,-16.97],[-5.69,-16.96],[-5.39,-16.96],[-5.34,-16.97],[-5.21,-16.96],[-5.30,-16.98],[-4.82,-15.08],[-4.89,-15.06],[-4.98,-15.13],[-5.02,-15.27],[-5.10,-15.28],[-5.14,-15.35],[-5.11,-15.42],[-5.02,-15.46],[-5.07,-15.52],[-5.24,-15.52],[-5.20,-15.58],[-5.14,-15.62],[-5.16,-15.72],[-5.09,-15.69],[-5.25,-15.66],[-5.32,-15.66],[-5.26,-15.74],[-5.21,-15.79],[-5.31,-15.83],[-5.25,-15.94],[-5.33,-15.93],[-5.36,-16.01],[-5.43,-16.02],[-5.50,-16.19],[-5.56,-16.16],[-5.51,-16.40],[-5.58,-16.36],[-5.63,-16.45],[-5.77,-16.61],[-5.82,-16.72],[-5.88,-16.82],[-5.92,-16.89]];

// second, closer reading of three patches along the lower edge
const patchMid = [[-3.57,-12.30],[-3.52,-12.29],[-3.47,-12.28],[-3.42,-12.30],[-3.39,-12.29],[-3.34,-12.27],[-3.34,-12.31],[-3.27,-12.28],[-3.22,-12.28],[-3.24,-12.23],[-3.20,-12.22],[-3.43,-12.23],[-3.55,-12.21],[-3.54,-12.34],[-3.47,-12.36],[-3.43,-12.43],[-3.41,-12.48],[-3.44,-12.47],[-3.37,-12.39],[-3.33,-12.38],[-3.25,-12.37],[-3.23,-12.38],[-3.25,-12.43],[-3.32,-12.46],[-3.38,-12.43],[-3.55,-12.46],[-3.54,-12.49],[-3.55,-12.55],[-3.49,-12.55],[-3.48,-12.49],[-3.62,-12.47],[-3.64,-12.55],[-3.61,-12.56],[-3.29,-12.55],[-3.24,-12.52],[-3.20,-12.52],[-3.18,-12.51],[-3.34,-12.57],[-3.32,-12.59],[-3.38,-12.61],[-3.52,-12.61],[-3.55,-12.63],[-3.60,-12.64],[-3.44,-12.63],[-3.46,-12.66],[-3.30,-12.64],[-3.28,-12.64],[-3.19,-12.66],[-3.12,-12.65],[-3.26,-12.71],[-3.26,-12.75],[-3.67,-12.63],[-3.72,-12.66],[-3.57,-12.69],[-3.54,-12.71],[-3.64,-12.73],[-3.71,-12.72],[-3.76,-12.72],[-3.57,-12.77],[-3.66,-12.78],[-3.55,-12.82],[-3.70,-12.82],[-3.41,-12.78],[-3.42,-12.82],[-3.43,-12.87],[-3.38,-12.85],[-3.36,-12.83],[-3.74,-12.84],[-3.78,-12.83],[-3.86,-12.86],[-3.50,-12.86],[-3.57,-12.88],[-3.66,-12.88],[-3.72,-12.91],[-3.53,-12.91],[-3.45,-12.92],[-3.28,-12.90],[-3.60,-12.93],[-3.81,-12.92],[-3.84,-12.95],[-3.79,-12.96],[-3.61,-12.96],[-3.88,-12.96],[-3.37,-12.99],[-3.68,-13.01],[-3.62,-13.02],[-3.53,-13.02],[-3.49,-13.04],[-3.82,-13.03],[-3.88,-13.05],[-3.74,-13.06],[-3.39,-13.08],[-3.36,-13.08],[-3.34,-13.10],[-3.64,-13.10],[-3.54,-13.10],[-3.57,-13.11],[-3.72,-13.09],[-3.86,-13.11],[-3.60,-13.12],[-3.20,-13.14],[-3.81,-13.13],[-3.66,-13.14],[-3.64,-13.14],[-3.78,-13.14],[-3.75,-13.15],[-3.60,-13.16],[-3.78,-13.16],[-3.50,-13.20],[-3.52,-13.21],[-3.62,-13.21],[-3.60,-13.23],[-3.69,-13.23],[-3.82,-13.20],[-3.84,-13.21],[-3.88,-13.21],[-3.12,-13.22],[-3.75,-13.24],[-3.74,-13.26],[-3.31,-13.34],[-3.73,-13.32],[-3.77,-13.34],[-3.84,-13.32],[-3.85,-13.35],[-3.60,-13.35],[-3.87,-13.39],[-3.59,-13.40],[-3.69,-13.39],[-3.82,-13.42],[-3.79,-13.42],[-3.69,-13.45],[-3.59,-13.45],[-3.53,-13.46],[-3.49,-13.46],[-3.73,-13.45],[-3.76,-13.48],[-3.74,-13.48],[-3.88,-13.46],[-3.85,-13.45],[-3.91,-13.50],[-3.96,-13.52],[-3.87,-13.54],[-3.89,-13.56],[-3.77,-13.55],[-3.67,-13.56],[-3.55,-13.55],[-3.73,-13.59],[-3.93,-13.61],[-3.86,-13.62],[-3.68,-13.62],[-3.38,-13.62],[-3.72,-13.65],[-3.75,-13.67],[-3.54,-13.66],[-3.95,-13.68],[-4.07,-13.68],[-4.02,-13.62],[-3.54,-13.73],[-3.86,-13.73],[-3.88,-13.77],[-3.92,-13.78],[-3.60,-13.76],[-3.77,-13.78],[-3.54,-13.78],[-3.68,-13.83],[-4.06,-13.81],[-3.97,-13.75]];

const patchLow = [[-4.43,-14.19],[-4.39,-14.26],[-4.32,-14.29],[-4.29,-14.23],[-4.29,-14.29],[-4.25,-14.23],[-4.22,-14.26],[-4.22,-14.20],[-4.18,-14.16],[-4.16,-14.22],[-4.15,-14.29],[-4.36,-14.17],[-4.32,-14.18],[-4.39,-14.14],[-4.46,-14.36],[-4.41,-14.34],[-4.41,-14.41],[-4.39,-14.44],[-4.36,-14.42],[-4.33,-14.42],[-4.32,-14.44],[-4.28,-14.46],[-4.24,-14.44],[-4.35,-14.49],[-4.29,-14.51],[-4.39,-14.53],[-4.15,-14.52],[-4.48,-14.56],[-4.51,-14.52],[-4.55,-14.53],[-4.55,-14.59],[-4.59,-14.60],[-4.62,-14.52],[-4.67,-14.54],[-4.46,-14.44],[-4.48,-14.42],[-4.32,-14.65],[-4.15,-14.66],[-4.48,-14.65],[-4.53,-14.65],[-4.56,-14.66],[-4.52,-14.69],[-4.62,-14.65],[-4.67,-14.62],[-4.68,-14.70],[-4.73,-14.64],[-4.75,-14.60],[-4.77,-14.68],[-4.25,-14.71],[-4.30,-14.71],[-4.32,-14.76],[-4.61,-14.73],[-4.47,-14.73],[-4.52,-14.75],[-4.75,-14.74],[-4.71,-14.76],[-4.66,-14.76],[-4.20,-14.80],[-4.37,-14.82],[-4.33,-14.81],[-4.55,-14.83],[-4.51,-14.84],[-4.62,-14.82],[-4.65,-14.83],[-4.76,-14.82],[-4.71,-14.85],[-4.52,-14.88],[-4.44,-14.85],[-4.47,-14.88],[-4.66,-14.89],[-4.63,-14.89],[-4.62,-14.92],[-4.75,-14.92],[-4.56,-14.94],[-4.45,-14.95],[-4.32,-14.96],[-4.21,-14.97],[-4.78,-14.95],[-4.82,-14.95],[-4.73,-14.99],[-4.16,-15.06],[-4.62,-15.01],[-4.65,-15.04],[-4.30,-15.10],[-4.22,-15.10],[-4.20,-15.12],[-4.50,-15.07],[-4.47,-15.10],[-4.55,-15.11],[-4.62,-15.11],[-4.67,-15.09],[-4.73,-15.07],[-4.73,-15.12],[-4.78,-15.12],[-4.59,-15.15],[-4.40,-15.18],[-4.82,-15.18],[-4.78,-15.20],[-4.69,-15.19],[-4.72,-15.22],[-4.64,-15.22],[-4.56,-15.20],[-4.51,-15.17],[-4.48,-15.22],[-4.45,-15.24],[-4.43,-15.27],[-4.67,-15.26],[-4.84,-15.25],[-4.85,-15.29],[-4.79,-15.31],[-4.71,-15.32],[-4.69,-15.36],[-4.58,-15.33],[-4.37,-15.35],[-4.89,-15.33],[-4.91,-15.37],[-4.94,-15.30],[-4.98,-15.20],[-4.79,-15.41],[-4.77,-15.45],[-4.61,-15.41],[-4.58,-15.41],[-4.55,-15.42],[-4.52,-15.40],[-4.42,-15.42],[-4.55,-15.46],[-4.68,-15.46],[-4.67,-15.50],[-4.92,-15.47],[-4.90,-15.49],[-4.78,-15.50],[-4.87,-15.53],[-4.78,-15.55],[-4.76,-15.56],[-4.77,-15.59],[-4.99,-15.54],[-4.95,-15.57],[-4.66,-15.59],[-4.64,-15.65],[-4.84,-15.60],[-4.86,-15.62],[-4.90,-15.63],[-4.89,-15.68],[-4.86,-15.67],[-4.95,-15.67],[-4.93,-15.71],[-4.24,-15.68],[-4.83,-15.71],[-4.87,-15.74],[-4.95,-15.74],[-4.81,-15.77],[-4.99,-15.62],[-4.99,-15.68]];

const patchHigh = [[-2.07,-9.37],[-2.15,-9.35],[-2.17,-9.40],[-2.21,-9.37],[-2.25,-9.36],[-2.28,-9.38],[-2.32,-9.39],[-2.36,-9.35],[-2.26,-9.46],[-2.26,-9.51],[-2.22,-9.52],[-2.20,-9.51],[-2.35,-9.49],[-2.38,-9.54],[-2.41,-9.51],[-2.09,-9.56],[-2.13,-9.57],[-2.17,-9.57],[-2.15,-9.63],[-2.18,-9.63],[-2.31,-9.60],[-2.36,-9.61],[-2.31,-9.66],[-2.34,-9.66],[-2.43,-9.59],[-2.40,-9.66],[-2.21,-9.67],[-2.25,-9.69],[-2.26,-9.73],[-2.21,-9.72],[-2.02,-9.73],[-1.97,-9.71],[-2.34,-9.76],[-2.45,-9.72],[-2.50,-9.75],[-2.43,-9.75],[-2.39,-9.80],[-2.12,-9.79],[-2.09,-9.84],[-2.01,-9.83],[-2.32,-9.81],[-2.29,-9.83],[-2.22,-9.85],[-2.32,-9.88],[-2.19,-9.89],[-2.53,-9.85],[-2.41,-9.87],[-2.36,-9.92],[-2.37,-9.95],[-2.30,-9.97],[-2.15,-9.97],[-2.45,-9.95],[-2.23,-10.01],[-2.19,-10.02],[-2.41,-10.01],[-2.46,-10.03],[-2.36,-10.04],[-2.41,-10.06],[-2.56,-10.06],[-2.51,-10.08],[-2.06,-10.06],[-2.08,-10.08],[-2.31,-10.06],[-2.33,-10.12],[-2.06,-10.13],[-2.25,-10.16],[-2.19,-10.18],[-2.51,-10.18],[-2.46,-10.17],[-2.46,-10.23],[-2.10,-10.21],[-2.37,-10.21],[-2.51,-10.21],[-2.35,-10.25],[-2.31,-10.26],[-2.21,-10.27],[-2.52,-10.28],[-2.44,-10.30],[-2.40,-10.29],[-2.66,-10.28],[-2.60,-10.30],[-2.40,-10.32],[-2.38,-10.33],[-2.34,-10.34],[-2.21,-10.37],[-2.57,-10.35],[-2.52,-10.36],[-2.49,-10.35],[-2.46,-10.39],[-2.43,-10.42],[-2.35,-10.38],[-2.31,-10.41],[-2.11,-10.44],[-2.56,-10.43],[-2.61,-10.44],[-2.37,-10.44],[-2.53,-10.48],[-2.51,-10.49],[-2.32,-10.45],[-2.05,-10.50],[-2.37,-10.51],[-2.27,-10.51],[-2.31,-10.53],[-2.65,-10.42],[-2.17,-10.55],[-2.16,-10.57],[-2.26,-10.57],[-2.57,-10.57],[-2.32,-10.60],[-2.45,-10.58],[-2.50,-10.59],[-2.54,-10.59],[-2.52,-10.64],[-2.62,-10.61],[-2.67,-10.60],[-2.56,-10.68],[-2.60,-10.69],[-2.75,-10.64],[-2.67,-10.70],[-2.71,-10.65],[-2.45,-10.71],[-2.48,-10.73],[-2.31,-10.74],[-2.32,-10.76],[-2.29,-10.77],[-2.73,-10.75],[-2.45,-10.76],[-2.55,-10.75],[-2.56,-10.77],[-2.52,-10.80],[-2.50,-10.81],[-2.47,-10.82],[-2.42,-10.83],[-2.24,-10.83],[-2.56,-10.84],[-2.78,-10.78],[-2.82,-10.86],[-2.91,-10.87],[-2.74,-10.91],[-2.65,-10.92],[-2.63,-10.89],[-2.60,-10.91],[-2.63,-10.95],[-2.48,-10.94],[-2.75,-10.97],[-2.67,-10.98],[-2.86,-10.91]];

const toValues = pairs => pairs.map(p => ({ x: Math.pow(10, p[0]), y: Math.pow(10, p[1]) }));
const cloudPoints = [].concat(leftCorner, leftWingLow, leftWingMid, upperWing, rightEdgeTop, rightEdgeMid, lowerEdge, lowerTail, patchMid, patchLow, patchHigh);

const blue = '#1f77b4';
const fontName = '"DejaVu Sans"';

// 10^n in the style of the reference, anchor is 'center' or 'right'
function drawPower(ctx, exp, x, y, anchor) {
    const base = '10';
    const sup = '\u2212' + Math.abs(exp);
    ctx.font = '75px ' + fontName;
    const w1 = ctx.measureText(base).width;
    ctx.font = '52px ' + fontName;
    const w2 = ctx.measureText(sup).width;
    const left = anchor === 'center' ? x - (w1 + w2) / 2 : x - w1 - w2;
    ctx.textAlign = 'left';
    ctx.textBaseline = 'alphabetic';
    ctx.fillStyle = '#000';
    ctx.font = '75px ' + fontName;
    ctx.fillText(base, left, y);
    ctx.font = '52px ' + fontName;
    ctx.fillText(sup, left + w1, y - 29);
}

// runs of [text, font, dy, gap before]
function drawRuns(ctx, runs, x, y) {
    let cur = x;
    runs.forEach(r => {
        cur += r[3] || 0;
        ctx.font = r[1];
        ctx.fillText(r[0], cur, y + (r[2] || 0));
        cur += ctx.measureText(r[0]).width;
    });
}

const framePlugin = {
    id: 'frame',
    afterDraw(chart) {
        const ctx = chart.ctx;
        const a = chart.chartArea;
        const xs = chart.scales.x;
        const ys = chart.scales.y;
        ctx.save();

        // limit lines
        ctx.strokeStyle = '#000';
        ctx.lineWidth = 5.5;
        ctx.beginPath();
        ctx.moveTo(a.left, ys.getPixelForValue(limitSolid));
        ctx.lineTo(a.right, ys.getPixelForValue(limitSolid));
        ctx.stroke();
        ctx.setLineDash([23, 10]);
        ctx.beginPath();
        ctx.moveTo(a.left, ys.getPixelForValue(limitDashed));
        ctx.lineTo(a.right, ys.getPixelForValue(limitDashed));
        ctx.stroke();
        ctx.setLineDash([]);

        // spines
        ctx.lineWidth = 8;
        ctx.strokeRect(a.left, a.top, a.right - a.left, a.bottom - a.top);

        // tick labels
        xMajorExp.forEach(e => drawPower(ctx, e, xs.getPixelForValue(Math.pow(10, e)), 1967, 'center'));
        yMajorExp.forEach(e => drawPower(ctx, e, 339, ys.getPixelForValue(Math.pow(10, e)) + 29, 'right'));

        // axis titles
        const up = '85px ' + fontName;
        const it = 'italic 85px ' + fontName;
        ctx.fillStyle = '#000';
        ctx.textAlign = 'left';
        drawRuns(ctx, [['|', up], ['\u03B7', it], ['13', '60px ' + fontName, 12], ['|', up]], 985, 2067);

        ctx.translate(95, 1192);
        ctx.rotate(-Math.PI / 2);
        drawRuns(ctx, [['Br', it], ['(', up], ['\u03C4', it], ['\u27F6', up, 0, 11], ['\u03BC\u03B3', it, 0, 11], [')', up]], 0, 0);
        ctx.restore();
    }
};

new Chart(document.getElementById('plot'), {
    type: 'scatter',
    data: {
        datasets: [
            {
                label: 'cloud core',
                data: toValues(bandUpper.concat(bandLower)),
                showLine: true,
                fill: 'shape',
                backgroundColor: blue,
                borderColor: blue,
                borderWidth: 1,
                pointRadius: 0
            },
            {
                label: 'cloud',
                data: toValues(cloudPoints),
                backgroundColor: blue,
                borderWidth: 0,
                pointRadius: 5.9
            }
        ]
    },
    options: {
        responsive: false,
        animation: false,
        events: [],
        layout: { padding: { left: 0, right: 115, top: 58, bottom: 0 } },
        plugins: { legend: { display: false }, tooltip: { enabled: false } },
        scales: {
            x: {
                type: 'logarithmic',
                min: 1e-6,
                max: 1e-1,
                afterFit: s => { s.height = 248; },
                afterBuildTicks: s => {
                    const list = [];
                    xMajorExp.forEach(e => {
                        list.push({ value: Math.pow(10, e), major: true });
                        if (e < -1) xMinorMult.forEach(m => list.push({ value: m * Math.pow(10, e), major: false }));
                    });
                    s.ticks = list;
                },
                border: { display: false },
                ticks: { display: false, autoSkip: false },
                grid: {
                    z: 1,
                    color: c => (c.tick && c.tick.major) ? '#b0b0b0' : 'rgba(0,0,0,0)',
                    lineWidth: c => (c.tick && c.tick.major) ? 3 : 0,
                    tickColor: '#000',
                    tickWidth: 7,
                    tickLength: 24
                }
            },
            y: {
                type: 'logarithmic',
                min: 1e-17,
                max: 1e-7,
                afterFit: s => { s.width = 376; },
                afterBuildTicks: s => {
                    s.ticks = yMajorExp.map(e => ({ value: Math.pow(10, e), major: true }));
                },
                border: { display: false },
                ticks: { display: false, autoSkip: false },
                grid: {
                    z: 1,
                    color: '#b0b0b0',
                    lineWidth: 3,
                    tickColor: '#000',
                    tickWidth: 8,
                    tickLength: 24
                }
            }
        }
    },
    plugins: [framePlugin]
});
</script>
</body>
</html>
